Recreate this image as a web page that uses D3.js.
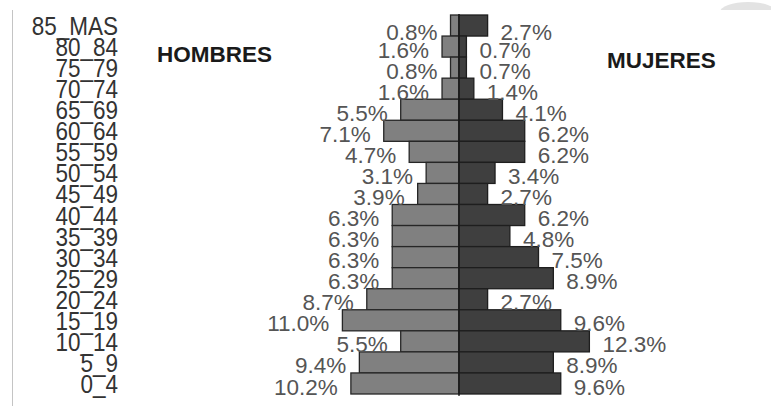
<!DOCTYPE html>
<html><head><meta charset="utf-8">
<script src="https://cdn.jsdelivr.net/npm/d3@7"></script>
<style>
html,body{margin:0;padding:0;background:#fff;}
svg{display:block;}
text{font-family:"Liberation Sans",Arial,sans-serif;}
</style></head>
<body>
<script>
const categories = ["85_MAS","80_84","75_79","70_74","65_69","60_64","55_59","50_54","45_49","40_44","35_39","30_34","25_29","20_24","15_19","10_14","5_9","0_4"];
const hombres = [0.8,1.6,0.8,1.6,5.5,7.1,4.7,3.1,3.9,6.3,6.3,6.3,6.3,8.7,11.0,5.5,9.4,10.2];
const mujeres = [2.7,0.7,0.7,1.4,4.1,6.2,6.2,3.4,2.7,6.2,4.8,7.5,8.9,2.7,9.6,12.3,8.9,9.6];
const valueLabelsH = ["0.8%","1.6%","0.8%","1.6%","5.5%","7.1%","4.7%","3.1%","3.9%","6.3%","6.3%","6.3%","6.3%","8.7%","11.0%","5.5%","9.4%","10.2%"];
const valueLabelsM = ["2.7%","0.7%","0.7%","1.4%","4.1%","6.2%","6.2%","3.4%","2.7%","6.2%","4.8%","7.5%","8.9%","2.7%","9.6%","12.3%","8.9%","9.6%"];

const W = 771, H = 406, cx = 459;
const svg = d3.select("body").append("svg").attr("width", W).attr("height", H);

const y = d3.scaleBand().domain(categories).range([15, 394]).padding(0);
const xH = d3.scaleLinear().domain([0, 10]).range([cx, cx - 106]);
const xM = d3.scaleLinear().domain([0, 10]).range([cx, cx + 106]);

// left border line
svg.append("line").attr("x1", 12.5).attr("x2", 12.5).attr("y1", 10).attr("y2", 406)
  .attr("stroke", "#c4c4c4").attr("stroke-width", 1);

// top-right artifact
svg.append("ellipse").attr("cx", 748).attr("cy", 12).attr("rx", 28).attr("ry", 10).attr("fill", "#e3e3e3");
svg.append("rect").attr("x", 715).attr("y", 10).attr("width", 60).attr("height", 20).attr("fill", "#fff");

// bars
svg.selectAll("rect.h").data(categories).enter().append("rect")
  .attr("class", "h")
  .attr("x", (c, i) => xH(hombres[i]))
  .attr("y", c => y(c))
  .attr("width", (c, i) => cx - xH(hombres[i]))
  .attr("height", y.bandwidth())
  .attr("fill", "#808080").attr("stroke", "#262626").attr("stroke-width", 1.3);

svg.selectAll("rect.m").data(categories).enter().append("rect")
  .attr("class", "m")
  .attr("x", cx)
  .attr("y", c => y(c))
  .attr("width", (c, i) => xM(mujeres[i]) - cx)
  .attr("height", y.bandwidth())
  .attr("fill", "#3f3f3f").attr("stroke", "#1e1e1e").attr("stroke-width", 1.3);

// center axis
svg.append("line").attr("x1", cx).attr("x2", cx).attr("y1", 14).attr("y2", 396)
  .attr("stroke", "#1a1a1a").attr("stroke-width", 1.3);

const baseY = c => Math.max(y(c) + y.bandwidth() + 0.5, 40);

// value labels
svg.selectAll("text.vh").data(categories).enter().append("text")
  .attr("class", "vh")
  .attr("x", (c, i) => xH(hombres[i]) - 13)
  .attr("y", baseY)
  .attr("text-anchor", "end")
  .attr("font-size", 22.5).attr("fill", "#555")
  .text((c, i) => valueLabelsH[i]);

svg.selectAll("text.vm").data(categories).enter().append("text")
  .attr("class", "vm")
  .attr("x", (c, i) => xM(mujeres[i]) + 13)
  .attr("y", baseY)
  .attr("text-anchor", "start")
  .attr("font-size", 22.5).attr("fill", "#555")
  .text((c, i) => valueLabelsM[i]);

// category labels (slightly condensed)
const sx = 0.9;
const catG = svg.append("g").attr("transform", `scale(${sx},1)`);
catG.selectAll("text.cat").data(categories).enter().append("text")
  .attr("class", "cat")
  .attr("x", 118 / sx)
  .attr("y", c => y(c) + y.bandwidth() - 1)
  .attr("text-anchor", "end")
  .attr("font-size", 25).attr("fill", "#333")
  .text(c => c);

// titles
svg.append("text").attr("x", 157).attr("y", 62).attr("font-size", 22.5).attr("font-weight", "bold")
  .attr("fill", "#1a1a1a").text("HOMBRES");
svg.append("text").attr("x", 607).attr("y", 68).attr("font-size", 22.5).attr("font-weight", "bold")
  .attr("fill", "#1a1a1a").text("MUJERES");
</script>
</body></html>
